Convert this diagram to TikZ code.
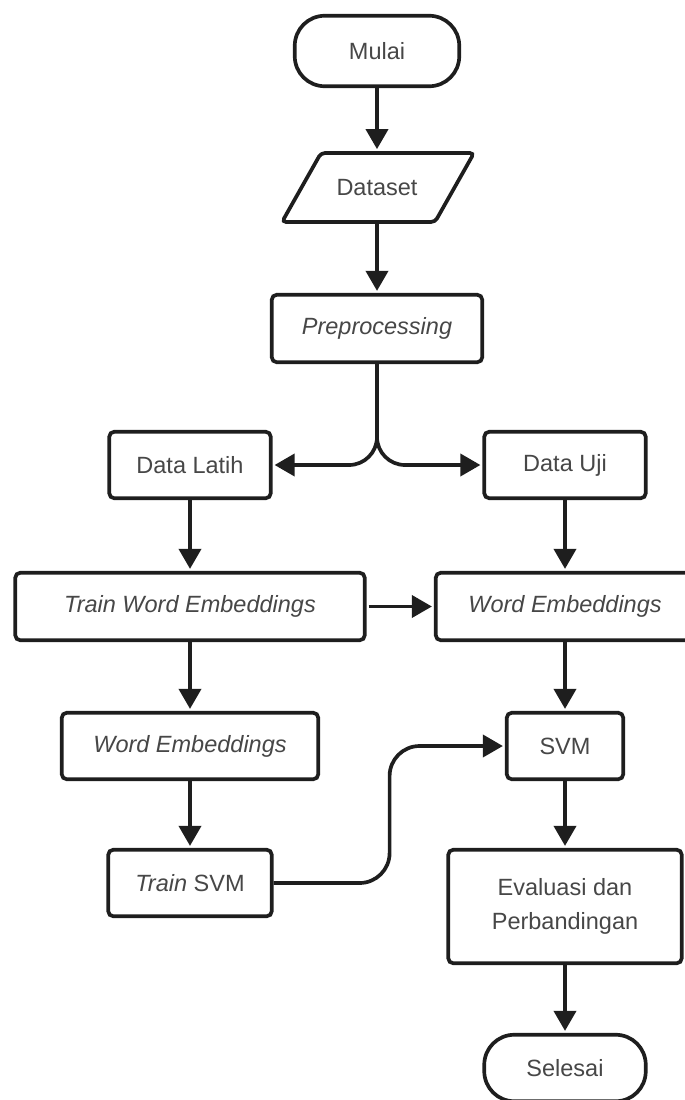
\documentclass[tikz,border=0pt]{standalone}
\usepackage{fontspec}
\setmainfont{Liberation Sans}
\usetikzlibrary{arrows.meta}
\definecolor{linec}{HTML}{1E1E1E}
\definecolor{txt}{HTML}{474747}
\begin{document}
\begin{tikzpicture}[x=1pt,y=-1pt,
  box/.style={draw=linec, line width=3.7pt, rounded corners=5pt, fill=white, text=txt,
    font=\fontsize{23.5}{34}\selectfont, minimum height=66.5pt, inner sep=0pt, align=center},
  term/.style={box, rounded corners=30pt},
  arr/.style={line width=3.7pt, draw=linec, -{Triangle[length=20pt,width=22pt]}, shorten >=2pt}
]
\useasboundingbox (0,0) rectangle (685,1100);
\clip (0,0) rectangle (685,1100);

\node[term, minimum width=164.5pt, minimum height=70.5pt] (mulai) at (377,51) {Mulai};
\node[box, draw=none, fill=none, minimum width=100pt, minimum height=69pt] (ds) at (377,187.5) {Dataset};
\draw[draw=linec, line width=3.7pt, rounded corners=4pt]
  (ds.center) ++(-56,-34.5) -- ++(153,0) -- ++(-39,69) -- ++(-153,0) -- cycle;
\node[box, minimum width=210.5pt, minimum height=67.5pt] (pre) at (377,328.5) {\itshape Preprocessing};
\node[box, minimum width=161.5pt] (latih) at (190,465) {Data Latih};
\node[box, minimum width=161.5pt] (uji) at (565,465) {Data Uji};
\node[box, minimum width=349.5pt, minimum height=67.5pt] (twe) at (190,606.5) {\itshape Train Word Embeddings};
\node[box, minimum width=258.5pt, minimum height=67.5pt] (we2) at (565,606.5) {\itshape Word Embeddings};
\node[box, minimum width=256.5pt] (we1) at (190,746) {\itshape Word Embeddings};
\node[box, minimum width=116.5pt] (svm) at (565,746) {SVM};
\node[box, minimum width=163.5pt] (tsvm) at (190,883) {\itshape Train\/\upshape{} SVM};
\node[box, minimum width=233.5pt, minimum height=113.5pt] (eval) at (565,906.5) {Evaluasi dan\\Perbandingan};
\node[term, minimum width=161.5pt, minimum height=66.5pt] (sel) at (565,1068) {Selesai};

\draw[arr] (mulai) -- (ds);
\draw[arr] (ds) -- (pre);
\draw[arr, rounded corners=28pt] (pre.south) |- (latih.east);
\draw[arr, rounded corners=28pt] (pre.south) |- (uji.west);
\draw[arr] (latih) -- (twe);
\draw[arr] (uji) -- (we2);
\draw[arr, shorten <=2pt] (twe) -- (we2);
\draw[arr] (twe) -- (we1);
\draw[arr] (we2) -- (svm);
\draw[arr] (we1) -- (tsvm);
\draw[arr, rounded corners=30pt] (tsvm.east) -- ++(116,0) |- (svm.west);
\draw[arr] (svm) -- (eval);
\draw[arr] (eval) -- (sel);
\end{tikzpicture}
\end{document}
